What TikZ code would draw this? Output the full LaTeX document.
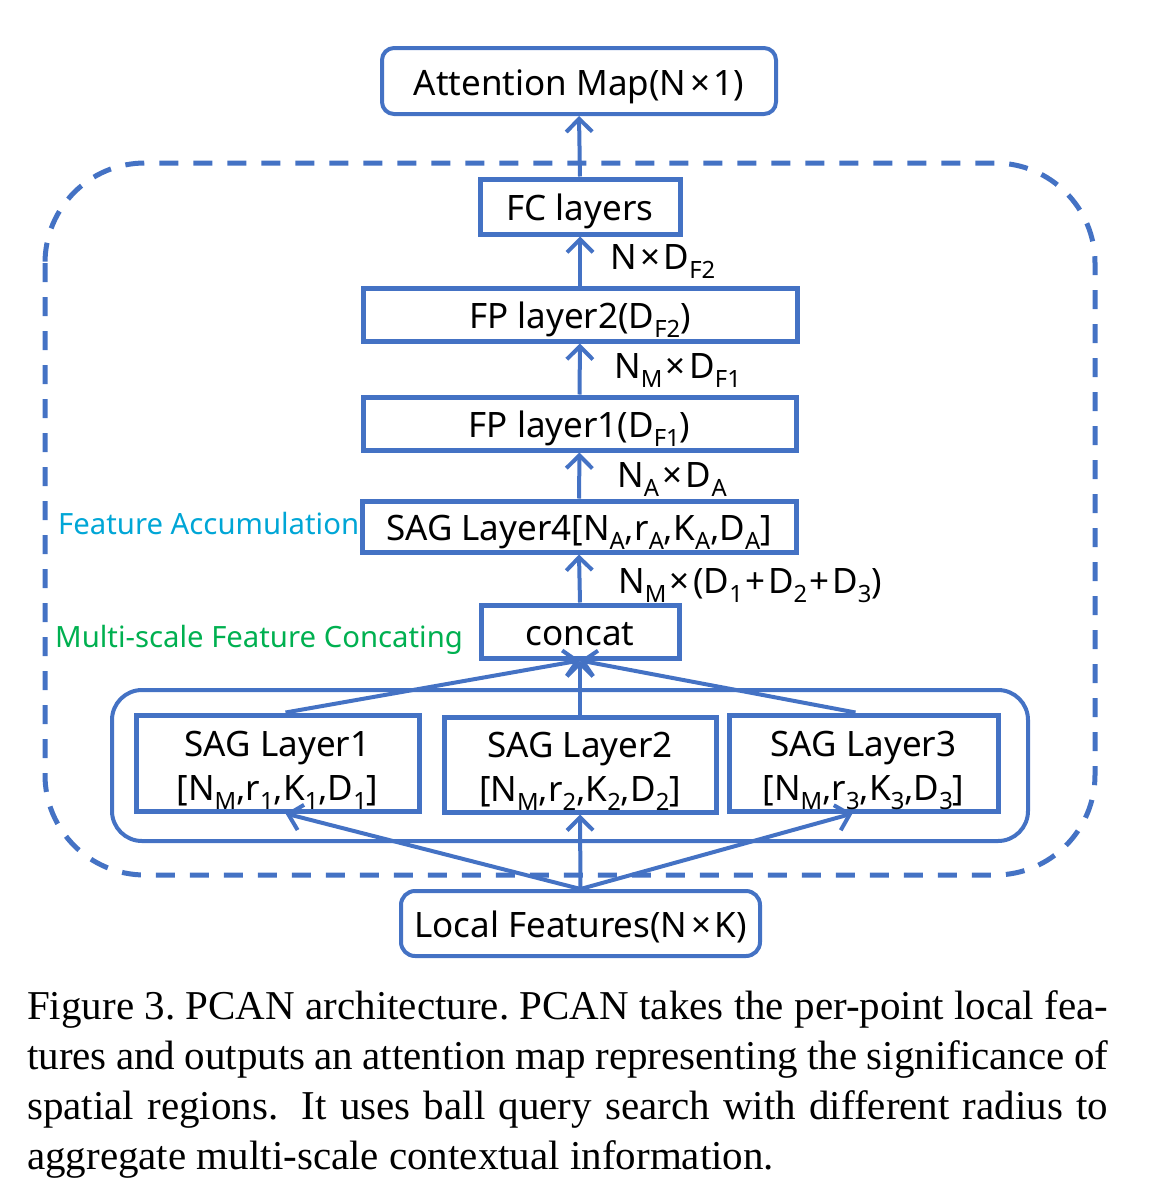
\documentclass[tikz,border=0pt]{standalone}
\usepackage{fontspec}
\setmainfont{Noto Sans}
\newfontfamily\capfont{Liberation Serif}
\usetikzlibrary{arrows.meta}
\definecolor{bl}{HTML}{4472C4}
\definecolor{cy}{HTML}{00A6D6}
\definecolor{gr}{HTML}{00B050}
\newcommand\sbs[1]{\raisebox{-0.26em}{\scalebox{0.68}{#1}}}
\newcommand\tms{\hspace{3.5pt}×\hspace{3.5pt}}
\newcommand\pls{\hspace{2.5pt}+\hspace{2.5pt}}
\begin{document}
\begin{tikzpicture}[x=1pt,y=-1pt,
  box/.style={draw=bl, line width=5pt, inner sep=0pt, text height=30pt, text depth=2pt, font=\fontsize{35}{38}\selectfont},
  rbox/.style={box, line width=4pt, rounded corners=12pt},
  lab/.style={anchor=base west, inner sep=0pt, font=\fontsize{35}{38}\selectfont},
  txt/.style={anchor=base, inner sep=0pt, font=\fontsize{35}{38}\selectfont},
  note/.style={anchor=base west, inner sep=0pt, font=\fontsize{29.3}{32}\selectfont},
  arr/.style={draw=bl, line width=4pt, -{Straight Barb[length=13pt,width=26pt,line width=4pt]}}]
\useasboundingbox (0,0) rectangle (1174,1197);
% outer dashed frame
\draw[bl, line width=5pt, dash pattern=on 19pt off 15pt, rounded corners=100pt] (45,163) rectangle (1095,875);
% group frame
\draw[bl, line width=4pt, rounded corners=30pt] (112,690) rectangle (1028,841);
% nodes
\node[rbox, minimum width=394pt, minimum height=66pt] (att) at (579,81) {Attention Map(N\tms 1)};
\node[box, minimum width=200pt, minimum height=55pt] (fc) at (580,206.5) {FC layers};
\node[box, minimum width=434pt, minimum height=53pt] (fp2) at (580,314.5) {FP layer2(D\sbs{F2})};
\node[box, minimum width=433pt, minimum height=53pt] (fp1) at (579.5,423.5) {FP layer1(D\sbs{F1})};
\node[box, minimum width=434pt, minimum height=51pt] (sag4) at (579,526.5) {SAG Layer4[N\sbs{A},r\sbs{A},K\sbs{A},D\sbs{A}]};
\node[box, minimum width=198pt, minimum height=53pt] (concat) at (580,631.5) {concat};
\node[box, minimum width=283pt, minimum height=96pt] (sag1) at (277.5,763) {};
\node[box, minimum width=272pt, minimum height=95pt] (sag2) at (580,764.5) {};
\node[box, minimum width=269pt, minimum height=96pt] (sag3) at (863.5,763) {};
\node[txt] (sag1a) at (277.5,756.5) {SAG Layer1};
\node[txt] (sag1b) at (277.5,800) {[N\sbs{M},r\sbs{1},K\sbs{1},D\sbs{1}]};
\node[txt] (sag2a) at (580,757.5) {SAG Layer2};
\node[txt] (sag2b) at (580,801) {[N\sbs{M},r\sbs{2},K\sbs{2},D\sbs{2}]};
\node[txt] (sag3a) at (863.5,756.5) {SAG Layer3};
\node[txt] (sag3b) at (863.5,800) {[N\sbs{M},r\sbs{3},K\sbs{3},D\sbs{3}]};
\node[rbox, line width=4pt, rounded corners=14pt, minimum width=359pt, minimum height=65pt] (loc) at (580.5,923.5) {Local Features(N\tms K)};
% labels
\node[lab] (l1) at (610,269) {N\tms D\sbs{F2}};
\node[lab] (l2) at (614,378) {N\sbs{M}\tms D\sbs{F1}};
\node[lab] (l3) at (617,487) {N\sbs{A}\tms D\sbs{A}};
\node[lab] (l4) at (618,593) {N\sbs{M}\tms(D\sbs{1}\pls D\sbs{2}\pls D\sbs{3})};
\node[note, text=cy] (n1) at (58,534) {Feature Accumulation};
\node[note, text=gr] (n2) at (55,647) {Multi-scale Feature Concating};
% arrows
\draw[arr] (fc.north) -- (att.south);
\draw[arr] (fp2.north) -- (fc.south);
\draw[arr] (fp1.north) -- (fp2.south);
\draw[arr] (sag4.north) -- (fp1.south);
\draw[arr] (concat.north) -- (sag4.south);
\draw[arr] ([xshift=8pt]sag1.north) -- (concat.south);
\draw[arr] (sag2.north) -- (concat.south);
\draw[arr] ([xshift=-8pt]sag3.north) -- (concat.south);
\draw[arr] (loc.north) -- ([xshift=8pt]sag1.south);
\draw[arr] (loc.north) -- (sag2.south);
\draw[arr] (loc.north) -- ([xshift=-11pt]sag3.south);
% caption
\node[anchor=base west, inner sep=0pt, font=\capfont\fontsize{41}{50}\selectfont] (cap) at (27,1019)
  {\parbox[t]{1081pt}{\frenchspacing Figure 3. PCAN architecture. PCAN takes the per-point local fea-\linebreak
  tures and outputs an attention map representing the significance of\linebreak
  spatial regions.\hspace{0.25em} It uses ball query search with different radius to\linebreak
  aggregate multi-scale contextual information.}};
\end{tikzpicture}
\end{document}
